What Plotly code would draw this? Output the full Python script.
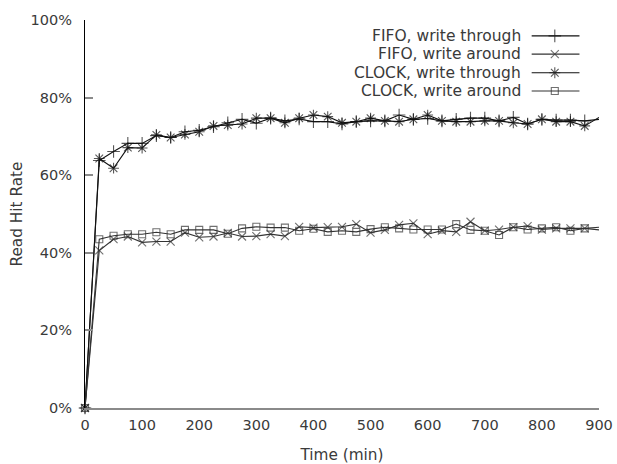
import plotly.graph_objects as go

time_min = [0, 25, 50, 75, 100, 125, 150, 175, 200, 225, 250, 275, 300, 325, 350, 375, 400, 425, 450,
            475, 500, 525, 550, 575, 600, 625, 650, 675, 700, 725, 750, 775, 800, 825, 850, 875, 900]

fifo_write_through = [0, 63.8, 66.1, 68.2, 68.2, 70.2, 69.7, 71.2, 71.6, 72.5, 73.5, 74.4, 73.4, 74.7, 74.0,
                      74.5, 73.8, 73.8, 73.2, 73.8, 74.0, 74.0, 75.5, 74.4, 74.6, 74.0, 74.4, 74.7, 74.7,
                      74.0, 74.9, 73.2, 74.4, 74.2, 74.2, 74.0, 74.4]
fifo_write_around = [0, 40.6, 43.5, 44.2, 42.7, 42.9, 42.9, 45.2, 44.0, 44.2, 45.1, 44.2, 44.3, 44.8, 44.3,
                     46.7, 46.5, 46.6, 46.7, 47.4, 45.2, 45.9, 47.2, 47.6, 44.8, 45.7, 45.4, 48.0, 45.7,
                     46.0, 46.6, 46.9, 46.0, 46.3, 46.3, 46.3, 45.9]
clock_write_through = [0, 64.3, 61.8, 67.1, 67.0, 70.4, 69.7, 70.5, 71.2, 72.7, 72.9, 73.2, 74.7, 74.7, 73.5,
                       74.7, 75.5, 75.1, 73.5, 73.8, 74.7, 74.0, 73.8, 74.4, 75.5, 74.0, 73.8, 73.8, 74.0,
                       74.0, 73.5, 73.2, 74.4, 73.8, 73.8, 72.7, 74.9]
clock_write_around = [0, 43.5, 44.4, 44.8, 44.8, 45.3, 44.8, 45.9, 45.9, 45.9, 44.9, 46.3, 46.7, 46.5, 46.5,
                      45.7, 46.2, 45.4, 45.7, 45.4, 46.1, 46.6, 46.3, 46.0, 46.0, 46.0, 47.4, 45.9, 45.7,
                      44.6, 46.6, 46.0, 46.3, 46.6, 45.7, 46.3, 46.6]

series_names = ["FIFO, write through", "FIFO, write around", "CLOCK, write through", "CLOCK, write around"]
series_values = [fifo_write_through, fifo_write_around, clock_write_through, clock_write_around]
symbols = ["cross-thin", "x-thin", "asterisk-open", "square-open"]
line_colors = ["#111111", "#333333", "#111111", "#333333"]
marker_sizes = [9, 8, 9, 7]

x_ticks = [0, 100, 200, 300, 400, 500, 600, 700, 800, 900]
y_ticks = [0, 20, 40, 60, 80, 100]
y_tick_labels = ["0%", "20%", "40%", "60%", "80%", "100%"]

FONT = "DejaVu Sans"
FS = 14.5
TFS = 15.3
TXT = "#3a3a3a"

fig = go.Figure()
for name, vals, sym, col, ms in zip(series_names, series_values, symbols, line_colors, marker_sizes):
    sizes = [ms] * (len(vals) - 1) + [0]
    fig.add_trace(go.Scatter(
        x=time_min, y=vals, mode="lines+markers", name=name, showlegend=False,
        line=dict(color=col, width=1.1),
        marker=dict(symbol=sym, size=sizes, color=col, line=dict(color=col, width=1.1)),
        cliponaxis=False,
    ))

# Manual legend (text on the left, sample on the right), gnuplot style
leg_rows = [0.959, 0.912, 0.864, 0.817]
for name, sym, col, ms, yy in zip(series_names, symbols, line_colors, marker_sizes, leg_rows):
    fig.add_trace(go.Scatter(
        x=[0.869, 0.914, 0.962], y=[yy, yy, yy], xaxis="x2", yaxis="y2",
        mode="lines+markers", showlegend=False, hoverinfo="skip",
        line=dict(color=col, width=1.1),
        marker=dict(symbol=sym, size=[0, ms, 0], color=col, line=dict(color=col, width=1.1)),
        cliponaxis=False,
    ))
    fig.add_annotation(x=0.8516, y=yy, xref="paper", yref="paper", text=name, showarrow=False,
                       xanchor="right", yanchor="middle", font=dict(family=FONT, size=15.5, color=TXT))

fig.update_layout(
    width=617, height=464,
    margin=dict(l=85, r=18, t=20, b=56),
    plot_bgcolor="white", paper_bgcolor="white",
    font=dict(family=FONT, size=FS, color=TXT),
    xaxis=dict(range=[0, 900], tickvals=x_ticks, showgrid=False, zeroline=False, automargin=False,
               showline=True, linecolor="#8a8a8a", linewidth=1.5, ticks="",
               ticklabelstandoff=3,
               title=dict(text="Time (min)", standoff=19, font=dict(family=FONT, size=TFS, color=TXT))),
    yaxis=dict(range=[0, 100], tickvals=y_ticks, ticktext=y_tick_labels, showgrid=False, zeroline=False,
               automargin=False,
               showline=True, linecolor="#000000", linewidth=1.2, ticks="inside", ticklen=8,
               tickcolor="#8a8a8a", tickwidth=1.5, ticklabelstandoff=9,
               title=dict(text="Read Hit Rate", standoff=4, font=dict(family=FONT, size=TFS, color=TXT))),
    xaxis2=dict(range=[0, 1], overlaying="x", visible=False, fixedrange=True),
    yaxis2=dict(range=[0, 1], overlaying="y", visible=False, fixedrange=True),
)

fig.write_html("out.html", config={"displayModeBar": False},
               post_script="document.body.style.margin='0';document.body.style.overflow='hidden';")
